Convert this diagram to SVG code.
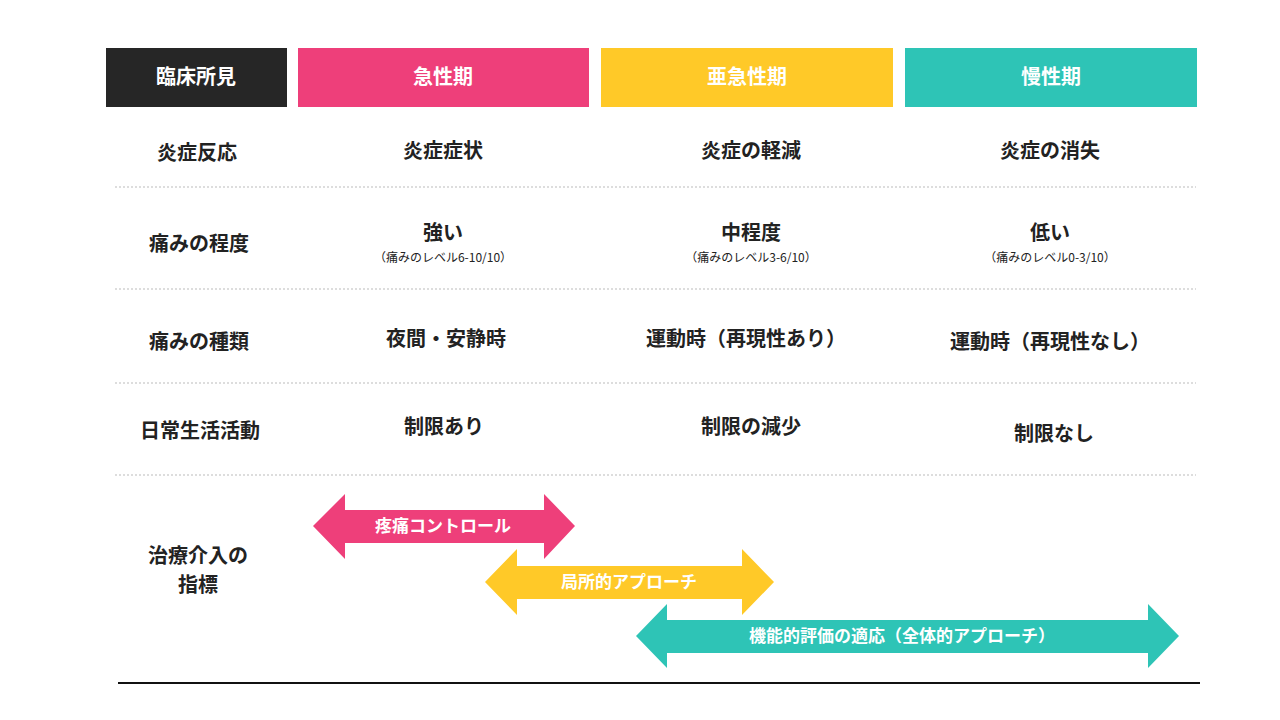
<svg xmlns="http://www.w3.org/2000/svg" width="1280" height="720" viewBox="0 0 1280 720">
<style>
text{font-family:"Noto Sans CJK JP","Noto Sans",sans-serif;font-weight:bold;text-anchor:middle;fill:#222}
.h{fill:#fff;font-size:20px}
.t{font-size:20px}
.s{font-size:12px;font-weight:normal}
.w{fill:#fff;font-size:17px}
.d{stroke:#bbb;stroke-width:1.2;stroke-dasharray:2 2}
</style>
<rect width="1280" height="720" fill="#fff"/>
<g id="headers">
<rect x="106" y="48" width="181" height="59" fill="#262626"/><text class="h" x="196" y="84">臨床所見</text>
<rect x="298" y="48" width="291" height="59" fill="#EE3F7A"/><text class="h" x="443" y="84">急性期</text>
<rect x="601" y="48" width="292" height="59" fill="#FFC928"/><text class="h" x="747" y="84">亜急性期</text>
<rect x="905" y="48" width="292" height="59" fill="#2EC4B6"/><text class="h" x="1051" y="84">慢性期</text>
</g>
<g id="grid">
<line class="d" x1="115" y1="187" x2="1196" y2="187"/>
<line class="d" x1="115" y1="289" x2="1196" y2="289"/>
<line class="d" x1="115" y1="383" x2="1196" y2="383"/>
<line class="d" x1="115" y1="475" x2="1196" y2="475"/>
<line x1="118" y1="683" x2="1200" y2="683" stroke="#111" stroke-width="2"/>
</g>
<g id="rows">
<text class="t" x="197" y="160">炎症反応</text>
<text class="t" x="443" y="158">炎症症状</text>
<text class="t" x="751" y="158">炎症の軽減</text>
<text class="t" x="1050" y="158">炎症の消失</text>
<text class="t" x="199" y="251">痛みの程度</text>
<text class="t" x="443" y="240">強い</text><text class="s" x="443" y="262">（痛みのレベル6-10/10）</text>
<text class="t" x="751" y="240">中程度</text><text class="s" x="751" y="262">（痛みのレベル3-6/10）</text>
<text class="t" x="1050" y="240">低い</text><text class="s" x="1050" y="262">（痛みのレベル0-3/10）</text>
<text class="t" x="199" y="349">痛みの種類</text>
<text class="t" x="446" y="346">夜間・安静時</text>
<text class="t" x="746" y="346">運動時（再現性あり）</text>
<text class="t" x="1050" y="349">運動時（再現性なし）</text>
<text class="t" x="200" y="438">日常生活活動</text>
<text class="t" x="444" y="434">制限あり</text>
<text class="t" x="751" y="434">制限の減少</text>
<text class="t" x="1054" y="441">制限なし</text>
<text class="t" x="198" y="563">治療介入の</text>
<text class="t" x="198" y="592">指標</text>
</g>
<g id="connectors">
<polygon fill="#EE3F7A" points="313,526 345,494 345,510 544,510 544,494 575,526 544,559 544,543 345,543 345,559"/>
<text class="w" x="443" y="532">疼痛コントロール</text>
<polygon fill="#FFC928" points="485,582 517,549 517,566 742,566 742,549 774,582 742,615 742,599 517,599 517,615"/>
<text class="w" x="629" y="588">局所的アプローチ</text>
<polygon fill="#2EC4B6" points="636,636 667,604 667,620 1148,620 1148,604 1179,636 1148,668 1148,653 667,653 667,668"/>
<text class="w" x="902" y="642">機能的評価の適応（全体的アプローチ）</text>
</g>
</svg>
